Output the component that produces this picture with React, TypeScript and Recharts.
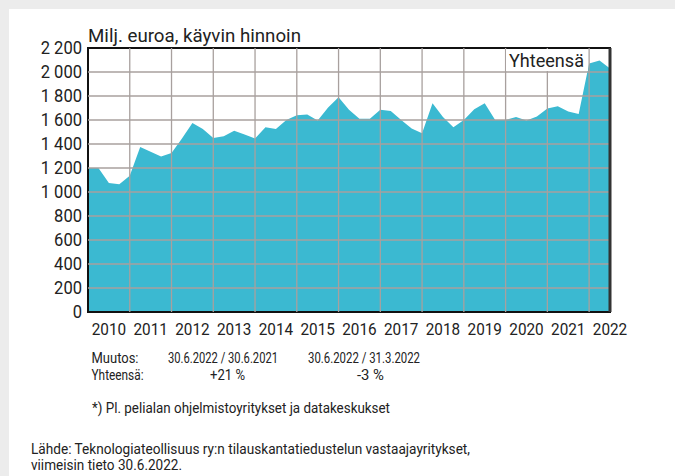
import { AreaChart, Area, XAxis, YAxis, ReferenceLine, ReferenceArea } from 'recharts'

// quarter ends 31.12.2009 ... 30.6.2022, Milj. euroa
const values = [
  1200, 1200, 1075, 1065, 1135, 1375, 1335, 1295, 1325, 1445,
  1575, 1525, 1450, 1465, 1510, 1480, 1445, 1540, 1525, 1600,
  1640, 1645, 1595, 1705, 1790, 1685, 1610, 1610, 1685, 1675,
  1600, 1530, 1490, 1740, 1625, 1540, 1600, 1690, 1740, 1600,
  1600, 1625, 1595, 1630, 1695, 1715, 1670, 1650, 2070, 2095,
  2030,
]
const years = [2010, 2011, 2012, 2013, 2014, 2015, 2016, 2017, 2018, 2019, 2020, 2021, 2022]
const yTicks = [0, 200, 400, 600, 800, 1000, 1200, 1400, 1600, 1800, 2000, 2200]

const data = values.map((v, i) => ({ i, v }))
const yearMid = years.map((_, k) => k * 4 + 2)
const yearEdges = years.slice(1).map((_, k) => (k + 1) * 4)
const lastIndex = values.length - 1

const font = 'Roboto, "Noto Sans", sans-serif'
const ink = '#222'
const gridColor = '#a8a09e'
const fill = '#3bb9d1'

const fmt = (v: number) => (v >= 1000 ? `${Math.floor(v / 1000)} ${String(v % 1000).padStart(3, '0')}` : String(v))

function YTick({ x, y, payload }: any) {
  return (
    <g transform={`translate(${x},${y})`}>
      <text transform="scale(0.92,1)" textAnchor="end" dy="0.36em" fontSize={18} fontFamily={font} fill={ink}>
        {fmt(payload.value)}
      </text>
    </g>
  )
}

function XTick({ x, y, payload }: any) {
  const k = yearMid.indexOf(payload.value)
  return (
    <g transform={`translate(${x},${y})`}>
      <text transform="scale(0.9,1)" textAnchor="middle" dy="0.71em" fontSize={17} fontFamily={font} fill={ink}>
        {years[k]}
      </text>
    </g>
  )
}

function Notes() {
  const t = { fontFamily: font, fill: ink, lengthAdjust: 'spacingAndGlyphs' as const }
  return (
    <svg width={675} height={476} style={{ position: 'absolute', left: 0, top: 0, pointerEvents: 'none' }}>
      <text x={88} y={42} fontSize={19} textLength={213} {...t}>Milj. euroa, käyvin hinnoin</text>
      <rect x={506} y={49} width={82} height={22} fill="#fff" />
      <text x={509} y={66.5} fontSize={18} textLength={75} {...t}>Yhteensä</text>

      <text x={91.5} y={363} fontSize={14} textLength={47} {...t}>Muutos:</text>
      <text x={168} y={363} fontSize={14} textLength={110} {...t}>30.6.2022 / 30.6.2021</text>
      <text x={308} y={363} fontSize={14} textLength={112} {...t}>30.6.2022 / 31.3.2022</text>
      <text x={91.5} y={380} fontSize={14} textLength={52} {...t}>Yhteensä:</text>
      <text x={210} y={380} fontSize={14} textLength={35} {...t}>+21 %</text>
      <text x={357} y={380} fontSize={14} textLength={27} {...t}>-3 %</text>

      <text x={92} y={413} fontSize={14} textLength={298} {...t}>*) Pl. pelialan ohjelmistoyritykset ja datakeskukset</text>
      <text x={31} y={454} fontSize={14} textLength={439} {...t}>Lähde: Teknologiateollisuus ry:n tilauskantatiedustelun vastaajayritykset,</text>
      <text x={31} y={470} fontSize={14} textLength={151} {...t}>viimeisin tieto 30.6.2022.</text>
    </svg>
  )
}

export default function App() {
  return (
    <div style={{ position: 'absolute', left: 0, top: 0, width: 675, height: 476, background: '#ececec', overflow: 'hidden' }}>
      <div style={{ position: 'absolute', left: 9, top: 9, right: 0, bottom: 0, background: '#fff' }} />
      <div style={{ position: 'absolute', left: 0, top: 0 }}>
        <AreaChart width={675} height={476} data={data} margin={{ top: 48, right: 65, bottom: 0, left: 0 }}>
          <XAxis
            type="number"
            dataKey="i"
            domain={[0, lastIndex]}
            ticks={yearMid}
            interval={0}
            axisLine={false}
            tickLine={false}
            tickSize={6}
            tickMargin={5}
            height={164}
            tick={<XTick />}
          />
          <YAxis
            domain={[0, 2200]}
            ticks={yTicks}
            interval={0}
            axisLine={false}
            tickLine={false}
            tickSize={6}
            tickMargin={0}
            width={88}
            tick={<YTick />}
          />
          <Area type="linear" dataKey="v" stroke="none" fill={fill} fillOpacity={1} isAnimationActive={false} />
          {yTicks.slice(1, -1).map((v) => (
            <ReferenceLine key={`h${v}`} y={v} stroke={gridColor} strokeWidth={1.3} />
          ))}
          {yearEdges.map((x) => (
            <ReferenceLine key={`v${x}`} x={x} stroke={gridColor} strokeWidth={1.3} />
          ))}
          <ReferenceArea x1={0} x2={lastIndex} y1={0} y2={2200} fill="none" stroke="#111" strokeWidth={2} ifOverflow="visible" />
          <ReferenceLine x={lastIndex} stroke="#333" strokeWidth={3} ifOverflow="visible" />
        </AreaChart>
      </div>
      <Notes />
    </div>
  )
}
